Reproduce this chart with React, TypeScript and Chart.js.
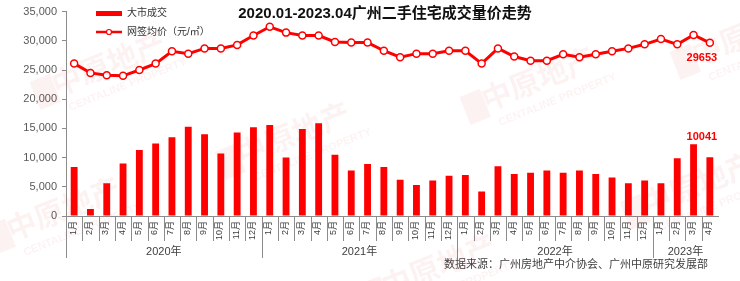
import React, { useEffect, useRef } from 'react';
import { Chart, registerables } from 'chart.js';
Chart.register(...registerables);

const FONT = '"Liberation Sans", "Noto Sans CJK SC", Arial, sans-serif';

const titleText = '2020.01-2023.04广州二手住宅成交量价走势';
const sourceText = '数据来源：广州房地产中介协会、广州中原研究发展部';
const seriesNames = ['大市成交', '网签均价（元/㎡）'];

const monthLabels = [
  '1月', '2月', '3月', '4月', '5月', '6月', '7月', '8月', '9月', '10月', '11月', '12月',
  '1月', '2月', '3月', '4月', '5月', '6月', '7月', '8月', '9月', '10月', '11月', '12月',
  '1月', '2月', '3月', '4月', '5月', '6月', '7月', '8月', '9月', '10月', '11月', '12月',
  '1月', '2月', '3月', '4月',
];
const yearLabels = ['2020年', '2021年', '2022年', '2023年'];
const yearSpans = [12, 12, 12, 4];

const volume = [
  8400, 1200, 5600, 9000, 11300, 12400, 13500, 15300, 14000, 10700, 14300, 15200,
  15600, 10000, 14900, 15900, 10500, 7800, 8900, 8400, 6200, 5300, 6100, 6900,
  7000, 4200, 8500, 7200, 7400, 7800, 7400, 7800, 7200, 6600, 5600, 6100,
  5600, 9900, 12300, 10041,
];
const price = [
  26100, 24500, 24100, 24000, 25000, 26100, 28200, 27800, 28700, 28700, 29300, 30900,
  32400, 31400, 30900, 30900, 29800, 29700, 29700, 28300, 27200, 27800, 27800, 28300,
  28300, 26100, 28700, 27300, 26600, 26600, 27700, 27200, 27700, 28200, 28700, 29400,
  30300, 29400, 31000, 29653,
];
const yMin = 0;
const yMax = 35000;
const yStep = 5000;

const RED = '#FF0000';
const AXIS = '#8c8c8c';
const TEXT = '#404040';

export default function App() {
  const ref = useRef<HTMLCanvasElement>(null);

  useEffect(() => {
    const decor = {
      id: 'decor',
      afterDraw(chart: any) {
        const ctx = chart.ctx as CanvasRenderingContext2D;
        const xs = chart.scales.x;
        const area = chart.chartArea;
        const bottom = area.bottom;
        const w = xs.getPixelForValue(1) - xs.getPixelForValue(0);
        ctx.save();
        // extended y axis line
        ctx.strokeStyle = AXIS;
        ctx.lineWidth = 1;
        ctx.beginPath();
        ctx.moveTo(Math.round(area.left) + 0.5, bottom);
        ctx.lineTo(Math.round(area.left) + 0.5, bottom + 42);
        ctx.stroke();
        // separators
        let acc = 0;
        const yearStarts = new Set<number>();
        yearSpans.forEach((s) => { acc += s; yearStarts.add(acc); });
        for (let i = 1; i < monthLabels.length; i++) {
          const bx = Math.round(xs.getPixelForValue(i) - w / 2) + 0.5;
          const len = yearStarts.has(i) ? 42 : 25;
          ctx.beginPath();
          ctx.moveTo(bx, bottom);
          ctx.lineTo(bx, bottom + len);
          ctx.stroke();
        }
        // month labels
        ctx.fillStyle = TEXT;
        ctx.font = `9px ${FONT}`;
        monthLabels.forEach((m, i) => {
          const cx = xs.getPixelForValue(i) - 1;
          ctx.save();
          ctx.translate(cx, bottom + 5);
          ctx.rotate(-Math.PI / 2);
          ctx.textAlign = 'right';
          ctx.textBaseline = 'middle';
          ctx.fillText(m, 0, 0);
          ctx.restore();
        });
        // year labels
        ctx.font = `11px ${FONT}`;
        ctx.textAlign = 'center';
        ctx.textBaseline = 'middle';
        let start = 0;
        yearLabels.forEach((y, k) => {
          const end = start + yearSpans[k] - 1;
          const cx = (xs.getPixelForValue(start) + xs.getPixelForValue(end)) / 2;
          ctx.fillText(y, cx, bottom + 36);
          start += yearSpans[k];
        });
        // title
        ctx.fillStyle = '#111';
        ctx.font = `bold 15px ${FONT}`;
        ctx.textAlign = 'center';
        ctx.fillText(titleText, 385, 14);
        // source
        ctx.fillStyle = TEXT;
        ctx.font = `11px ${FONT}`;
        ctx.textAlign = 'left';
        ctx.fillText(sourceText, 444, 265);
        // legend
        ctx.fillStyle = RED;
        ctx.fillRect(96, 11, 26, 5);
        ctx.strokeStyle = RED;
        ctx.lineWidth = 2.5;
        ctx.beginPath();
        ctx.moveTo(96, 32);
        ctx.lineTo(122, 32);
        ctx.stroke();
        ctx.fillStyle = '#fff';
        ctx.lineWidth = 1.2;
        ctx.beginPath();
        ctx.arc(109, 32, 2.5, 0, Math.PI * 2);
        ctx.fill();
        ctx.stroke();
        ctx.fillStyle = '#333';
        ctx.font = `10px ${FONT}`;
        ctx.textAlign = 'left';
        ctx.textBaseline = 'middle';
        ctx.fillText(seriesNames[0], 127, 13);
        ctx.fillText(seriesNames[1], 127, 32);
        // data labels
        const lineMeta = chart.getDatasetMeta(0);
        const barMeta = chart.getDatasetMeta(1);
        const lp = lineMeta.data[lineMeta.data.length - 1];
        const bp = barMeta.data[barMeta.data.length - 1];
        ctx.fillStyle = RED;
        ctx.font = `bold 11px ${FONT}`;
        ctx.textAlign = 'center';
        ctx.fillText(String(price[price.length - 1]), lp.x - 8, lp.y + 15);
        ctx.fillText(String(volume[volume.length - 1]), bp.x - 8, bp.y - 20);
        // watermarks
        const marks = [
          [100, 70], [285, 140], [530, 85], [55, 215], [690, 190], [430, 272], [740, 40],
        ];
        marks.forEach(([mx, my]) => {
          ctx.save();
          ctx.translate(mx, my);
          ctx.rotate(-0.38);
          ctx.globalAlpha = 0.05;
          ctx.fillStyle = '#e00000';
          ctx.font = `bold 30px ${FONT}`;
          ctx.textAlign = 'center';
          ctx.textBaseline = 'middle';
          ctx.fillText('中原地产', 10, 0);
          ctx.font = `bold 11px ${FONT}`;
          ctx.fillText('CENTALINE PROPERTY', 20, 24);
          ctx.fillRect(-70, -15, 22, 30);
          ctx.restore();
        });
        ctx.restore();
      },
    };

    const chart = new Chart(ref.current as HTMLCanvasElement, {
      type: 'bar',
      data: {
        labels: monthLabels,
        datasets: [
          {
            type: 'line',
            label: seriesNames[1],
            data: price,
            borderColor: RED,
            borderWidth: 3,
            pointRadius: 3.5,
            pointBackgroundColor: '#fff',
            pointBorderColor: RED,
            pointBorderWidth: 1.5,
            tension: 0,
            order: 0,
          } as any,
          {
            type: 'bar',
            label: seriesNames[0],
            data: volume,
            backgroundColor: RED,
            barPercentage: 0.42,
            categoryPercentage: 1,
            order: 1,
          },
        ],
      },
      options: {
        responsive: false,
        animation: false,
        devicePixelRatio: 1,
        layout: { padding: { top: 11, right: 22, left: 0, bottom: 0 } },
        plugins: { legend: { display: false }, tooltip: { enabled: false }, title: { display: false } },
        scales: {
          x: {
            offset: true,
            grid: { display: false, drawTicks: false },
            border: { display: true, color: AXIS },
            ticks: { display: false },
            afterFit: (s: any) => { s.height = 65; },
          },
          y: {
            min: yMin,
            max: yMax,
            ticks: { stepSize: yStep, color: '#595959', font: { size: 11, family: FONT }, padding: 5 },
            grid: { drawOnChartArea: false, drawTicks: true, tickLength: 4, color: AXIS },
            border: { display: true, color: AXIS },
            afterFit: (s: any) => { s.width = 66; },
          },
        },
      } as any,
      plugins: [decor],
    });
    return () => chart.destroy();
  }, []);

  return (
    <div style={{ position: 'absolute', left: 0, top: 0, width: 740, height: 281, background: '#fff' }}>
      <canvas ref={ref} width={740} height={281} style={{ display: 'block' }} />
    </div>
  );
}
